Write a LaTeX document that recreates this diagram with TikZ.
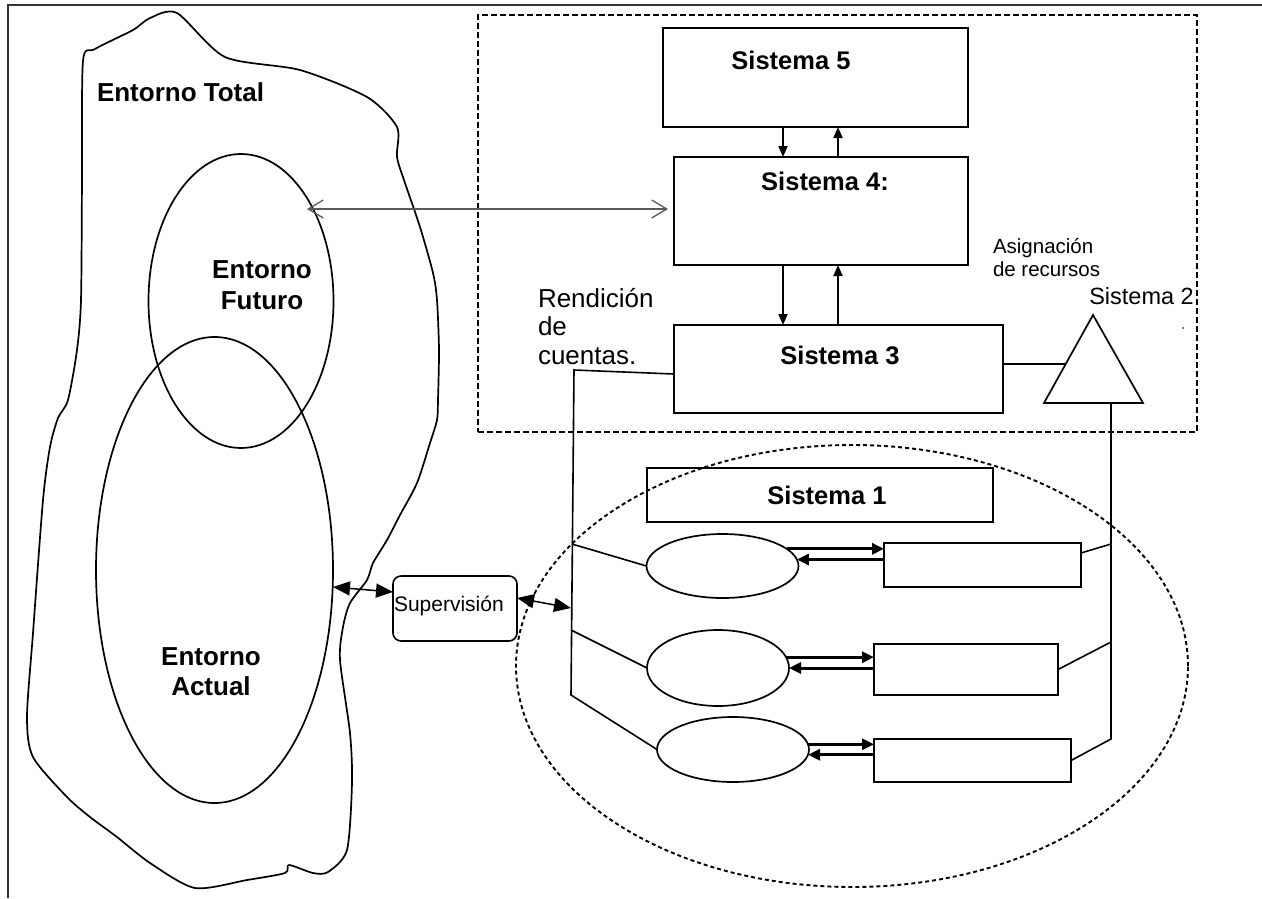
\documentclass[tikz,border=0pt]{standalone}
\usepackage{fontspec}
\setmainfont{Liberation Sans}
\usetikzlibrary{arrows.meta,shapes.geometric,calc}

\begin{document}
\begin{tikzpicture}[x=1pt,y=-1pt,
  box/.style={draw, line width=1.8pt, inner sep=0pt, outer sep=0pt, anchor=north west},
  oval/.style={draw, ellipse, line width=1.7pt, inner sep=0pt, outer sep=0pt},
  syslabel/.style={inner sep=0pt, outer sep=0pt, font=\fontsize{25.5}{30}\selectfont\bfseries},
  envlabel/.style={inner sep=0pt, outer sep=0pt, align=center, font=\fontsize{26}{31}\selectfont\bfseries},
  note/.style={inner sep=0pt, outer sep=0pt, align=left},
  link/.style={line width=1.6pt},
  vflow/.style={line width=1.9pt, -{Triangle[length=11pt,width=9pt]}},
  sflow/.style={line width=3pt, -{Triangle[length=12pt,width=11pt]}},
  supflow/.style={line width=1.5pt, {Triangle[length=17pt,width=14pt]}-{Triangle[length=17pt,width=14pt]}},
  farflow/.style={line width=1.3pt, black!65, {Straight Barb[length=15pt,width=18pt]}-{Straight Barb[length=15pt,width=18pt]}},
]
\useasboundingbox (0,0) rectangle (1262,898);

% page frame
\draw[line width=2.2pt, black!80] (8,898) -- (8,5) -- (1262,5);

% total environment outline
\draw[line width=1.7pt] plot[smooth cycle, tension=0.45] coordinates {
 (83,61) (95,49) (133,30) (150,18) (177,13) (225,57) (300,70) (367,97)
 (397,127) (397,157) (405,183) (420,227) (433,273) (437,300) (439,350)
 (438,400) (437,420) (430,443) (417,483) (400,515) (387,540) (373,563)
 (367,580) (350,603) (343,627) (340,660) (350,733) (352,783) (347,850)
 (328,872) (313,873) (289,865) (285,873) (247,880) (195,888) (150,863)
 (117,837) (90,817) (67,797) (33,757) (27,717) (33,633) (43,500)
 (50,447) (58,418) (68,400) (77,350) (81,300) (82,180)};
\node[note, anchor=west, font=\fontsize{26}{31}\selectfont\bfseries] (tot) at (97,92) {Entorno Total};

% future and current environments
\node[oval, minimum width=185, minimum height=294] (fut) at (241,301) {};
\node[oval, minimum width=237, minimum height=466] (act) at (214.5,570) {};
\node[envlabel] (futl) at (262,285) {Entorno\\Futuro};
\node[envlabel, font=\fontsize{26}{30}\selectfont\bfseries] (actl) at (211,672) {Entorno\\Actual};

% management group (systems 2 to 5)
\node[box, dash pattern=on 6pt off 3pt, line width=2.4pt, minimum width=719, minimum height=417] (mgmt) at (478,15) {};
\node[box, minimum width=305, minimum height=99] (s5) at (663,28) {};
\node[box, minimum width=294, minimum height=108] (s4) at (674,157) {};
\node[box, minimum width=329, minimum height=88] (s3) at (674,325) {};
\node[syslabel] (s5l) at (791,60) {Sistema 5};
\node[syslabel] (s4l) at (825,181) {Sistema 4:};
\node[syslabel] (s3l) at (840,355) {Sistema 3};

\coordinate (ax1) at (783,0);
\coordinate (ax2) at (838,0);
\draw[vflow] (s5.south -| ax1) -- (s4.north -| ax1);
\draw[vflow] (s4.north -| ax2) -- (s5.south -| ax2);
\draw[vflow] (s4.south -| ax1) -- (s3.north -| ax1);
\draw[vflow] (s3.north -| ax2) -- (s4.south -| ax2);

% system 2 (triangle)
\coordinate (t2top) at (1093,315);
\coordinate (t2l) at (1044,403);
\coordinate (t2r) at (1143,403);
\coordinate (t2base) at (1111,403);
\draw[line width=1.7pt, line join=miter] (t2top) -- (t2l) -- (t2r) -- cycle;
\draw[link] ($(s3.north east)+(0,39)$) -- ($(t2l)!0.443!(t2top)$);
\node[note, font=\fontsize{23.5}{27}\selectfont] (s2l) at (1141.5,296) {Sistema 2};
\node[note, anchor=west, font=\fontsize{20.5}{23}\selectfont] (asig) at (993,257.5) {Asignación\\de recursos};
\fill (1183,328) circle (0.9);

% accountability label
\node[note, anchor=west, font=\fontsize{26}{28.5}\selectfont] (rend) at (538,326.5) {Rendición\\de\\cuentas.};

% horizontal link between future environment and system 4
\coordinate (g1) at (307,209);
\draw[farflow, shorten >=6pt] (g1) -- (g1 -| s4.west);

% system 1 zone
\node[oval, dash pattern=on 4pt off 3pt, line width=1.9pt, minimum width=672, minimum height=442] (zone) at (852,666) {};
\node[box, minimum width=346, minimum height=54] (s1) at (647,468) {};
\node[syslabel] (s1l) at (827,495) {Sistema 1};

\node[oval, minimum width=152, minimum height=64] (e1) at (722.5,566) {};
\node[oval, minimum width=142, minimum height=76] (e2) at (718,668) {};
\node[oval, minimum width=152, minimum height=65] (e3) at (733,749.5) {};
\node[box, minimum width=197, minimum height=44] (b1) at (884,543) {};
\node[box, minimum width=184, minimum height=51] (b2) at (874,644) {};
\node[box, minimum width=197, minimum height=43] (b3) at (874,739) {};

\draw[sflow] (e1.15) -- (e1.15 -| b1.west);
\draw[sflow] (e1.5 -| b1.west) -- (e1.5);
\draw[sflow] (e2.9) -- (e2.9 -| b2.west);
\draw[sflow] (e2.east -| b2.west) -- (e2.east);
\draw[sflow] (e3.4) -- (e3.4 -| b3.west);
\draw[sflow] (e3.-4 -| b3.west) -- (e3.-4);

% left bus (accountability)
\coordinate (lb0) at (574,370);
\coordinate (lb1) at (572,544);
\coordinate (lb2) at (571,630);
\coordinate (lb3) at (571,695);
\coordinate (lbm) at (571,608);
\draw[link] ($(s3.west)+(0,5)$) -- (lb0) -- (lb3) -- (e3.west);
\draw[link] (lb1) -- (e1.west);
\draw[link] (lb2) -- (e2.west);

% right bus (resource allocation)
\coordinate (rb1) at (1111,544);
\coordinate (rb2) at (1111,642);
\coordinate (rb3) at (1111,739);
\draw[link] (t2base) -- (rb3) -- (b3.east);
\draw[link] (rb1) -- ($(b1.north east)+(0,10)$);
\draw[link] (rb2) -- (b2.east);

% supervision
\node[box, rounded corners=8pt, line width=1.6pt, minimum width=124, minimum height=65] (sup) at (393,576) {};
\node[note, anchor=west, font=\fontsize{21}{25}\selectfont] (supl) at (394,606) {Supervisión};
\draw[supflow] ($(act.east)+(0,17)$) -- ($(sup.west)+(0,-16.5)$);
\draw[supflow] ($(sup.east)+(0,-10.5)$) -- (lbm);
\end{tikzpicture}
\end{document}
